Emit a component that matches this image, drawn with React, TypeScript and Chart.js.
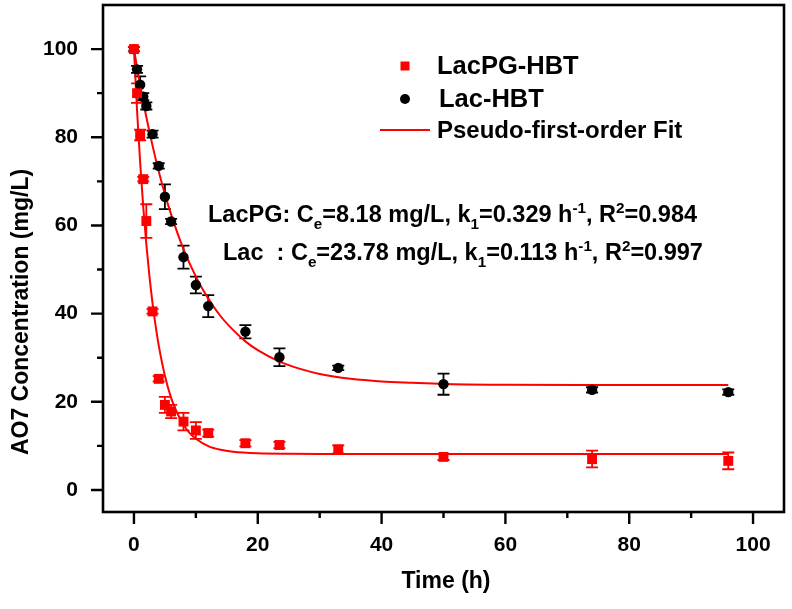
import React, { useEffect, useRef } from 'react';
import { Chart, registerables } from 'chart.js';

Chart.register(...registerables);

// ---- data ----
const TIMES = [0, 0.5, 1, 1.5, 2, 3, 4, 5, 6, 8, 10, 12, 18, 23.5, 33, 50, 74, 96];
const LACPG_VALUES = [100, 90, 80.5, 70.5, 61, 40.5, 25.2, 19.3, 17.8, 15.5, 13.5, 12.9, 10.6, 10.2, 9.2, 7.5, 7.0, 6.6];
const LACPG_ERRORS = [0.5, 2.2, 1.2, 0.5, 3.8, 0.5, 0.6, 1.8, 1.5, 2.0, 1.9, 0.8, 0.7, 0.7, 0.9, 0.7, 1.9, 1.9];
const LAC_VALUES = [100, 95.4, 91.9, 89.2, 87.1, 80.7, 73.5, 66.5, 60.9, 52.8, 46.5, 41.7, 35.9, 30.1, 27.7, 24.0, 22.7, 22.2];
const LAC_ERRORS = [0.5, 0.8, 1.9, 0.8, 0.8, 0.8, 0.6, 2.8, 0.6, 2.6, 1.9, 2.5, 1.5, 2.0, 0.5, 2.4, 0.6, 0.6];

const FIT_PG_TIMES = [0, 0.5, 1, 1.5, 2, 2.5, 3, 3.5, 4, 5, 6, 7, 8, 9, 10, 12, 14, 16, 20, 25, 30, 40, 60, 80, 96];
const FIT_PG_VALUES = [100, 86.1, 74.3, 64.2, 55.7, 48.5, 42.4, 37.2, 32.8, 25.9, 20.9, 17.4, 14.8, 12.9, 11.6, 9.95, 9.1, 8.66, 8.31, 8.2, 8.18, 8.18, 8.18, 8.18, 8.18];
const FIT_LAC_TIMES = [0, 1, 2, 3, 4, 5, 6, 8, 10, 12, 14, 16, 18, 20, 23.5, 27, 30, 35, 40, 45, 50, 60, 74, 96];
const FIT_LAC_VALUES = [100, 91.8, 84.6, 78.1, 72.3, 67.1, 62.5, 54.6, 48.4, 43.4, 39.4, 36.3, 33.7, 31.7, 29.1, 27.4, 26.3, 25.2, 24.6, 24.3, 24.05, 23.87, 23.8, 23.78];

const X_MAJOR_TICKS = [0, 20, 40, 60, 80, 100];
const X_MINOR_TICKS = [10, 30, 50, 70, 90];
const Y_MAJOR_TICKS = [0, 20, 40, 60, 80, 100];
const Y_MINOR_TICKS = [10, 30, 50, 70, 90];

const SERIES_PG = 'LacPG-HBT';
const SERIES_LAC = 'Lac-HBT';
const SERIES_FIT = 'Pseudo-first-order Fit';
const X_TITLE = 'Time (h)';
const Y_TITLE = 'AO7 Concentration (mg/L)';

type Seg = { t: string; k: 'n' | 'sub' | 'sup' };
const ANNOT_PG: Seg[] = [
  { t: 'LacPG: C', k: 'n' }, { t: 'e', k: 'sub' }, { t: '=8.18 mg/L, k', k: 'n' }, { t: '1', k: 'sub' },
  { t: '=0.329 h', k: 'n' }, { t: '-1', k: 'sup' }, { t: ', R', k: 'n' }, { t: '2', k: 'sup' }, { t: '=0.984', k: 'n' },
];
const ANNOT_LAC: Seg[] = [
  { t: 'Lac  : C', k: 'n' }, { t: 'e', k: 'sub' }, { t: '=23.78 mg/L, k', k: 'n' }, { t: '1', k: 'sub' },
  { t: '=0.113 h', k: 'n' }, { t: '-1', k: 'sup' }, { t: ', R', k: 'n' }, { t: '2', k: 'sup' }, { t: '=0.997', k: 'n' },
];

const RED = '#ff0000';
const FAM = '"Liberation Sans", Arial, sans-serif';

const toPts = (xs: number[], ys: number[]) => xs.map((x, i) => ({ x, y: ys[i] }));

function drawSegs(ctx: CanvasRenderingContext2D, segs: Seg[], x: number, y: number, size: number) {
  let cx = x;
  ctx.textAlign = 'left';
  ctx.textBaseline = 'alphabetic';
  for (const s of segs) {
    if (s.k === 'n') {
      ctx.font = `bold ${size}px ${FAM}`;
      ctx.fillText(s.t, cx, y);
    } else if (s.k === 'sub') {
      ctx.font = `bold ${size * 0.65}px ${FAM}`;
      ctx.fillText(s.t, cx, y + size * 0.28);
    } else {
      ctx.font = `bold ${size * 0.65}px ${FAM}`;
      ctx.fillText(s.t, cx, y - size * 0.38);
    }
    cx += ctx.measureText(s.t).width;
  }
}

const customPlugin = {
  id: 'customDraw',
  beforeDatasetsDraw(chart: any) {
    const { ctx, scales } = chart;
    const xs = scales.x, ys = scales.y;
    const groups = [
      { vals: LAC_VALUES, errs: LAC_ERRORS, color: '#000' },
      { vals: LACPG_VALUES, errs: LACPG_ERRORS, color: RED },
    ];
    ctx.save();
    ctx.lineWidth = 1.8;
    for (const g of groups) {
      ctx.strokeStyle = g.color;
      TIMES.forEach((t, i) => {
        const px = xs.getPixelForValue(t);
        const y1 = ys.getPixelForValue(g.vals[i] + g.errs[i]);
        const y2 = ys.getPixelForValue(g.vals[i] - g.errs[i]);
        ctx.beginPath();
        ctx.moveTo(px, y1); ctx.lineTo(px, y2);
        ctx.moveTo(px - 6, y1); ctx.lineTo(px + 6, y1);
        ctx.moveTo(px - 6, y2); ctx.lineTo(px + 6, y2);
        ctx.stroke();
      });
    }
    ctx.restore();
  },
  afterDraw(chart: any) {
    const { ctx, chartArea: a, scales } = chart;
    const xs = scales.x, ys = scales.y;
    ctx.save();
    // frame
    ctx.strokeStyle = '#000';
    ctx.lineWidth = 2.6;
    ctx.strokeRect(a.left, a.top, a.right - a.left, a.bottom - a.top);
    // ticks
    ctx.lineWidth = 2.4;
    ctx.beginPath();
    for (const v of X_MAJOR_TICKS) { const p = xs.getPixelForValue(v); ctx.moveTo(p, a.bottom); ctx.lineTo(p, a.bottom + 12); }
    for (const v of X_MINOR_TICKS) { const p = xs.getPixelForValue(v); ctx.moveTo(p, a.bottom); ctx.lineTo(p, a.bottom + 6); }
    for (const v of Y_MAJOR_TICKS) { const p = ys.getPixelForValue(v); ctx.moveTo(a.left, p); ctx.lineTo(a.left - 12, p); }
    for (const v of Y_MINOR_TICKS) { const p = ys.getPixelForValue(v); ctx.moveTo(a.left, p); ctx.lineTo(a.left - 6, p); }
    ctx.stroke();
    // axis titles
    ctx.fillStyle = '#000';
    ctx.font = `bold 23px ${FAM}`;
    ctx.textAlign = 'center';
    ctx.textBaseline = 'middle';
    ctx.fillText(X_TITLE, 446, 582);
    ctx.save();
    ctx.translate(22, 312);
    ctx.rotate(-Math.PI / 2);
    ctx.fillText(Y_TITLE, 0, 0);
    ctx.restore();
    // legend
    ctx.fillStyle = RED;
    ctx.fillRect(400.5, 61.5, 9, 9);
    ctx.fillStyle = '#000';
    ctx.beginPath(); ctx.arc(405, 99, 5, 0, Math.PI * 2); ctx.fill();
    ctx.strokeStyle = RED; ctx.lineWidth = 2;
    ctx.beginPath(); ctx.moveTo(380, 130); ctx.lineTo(430, 130); ctx.stroke();
    ctx.fillStyle = '#000';
    ctx.textAlign = 'left';
    ctx.textBaseline = 'alphabetic';
    ctx.font = `bold 25.5px ${FAM}`;
    ctx.fillText(SERIES_PG, 437, 74);
    ctx.fillText(SERIES_LAC, 439, 107);
    ctx.font = `bold 24px ${FAM}`;
    ctx.fillText(SERIES_FIT, 437, 138);
    // annotation
    drawSegs(ctx, ANNOT_PG, 208, 222, 23.5);
    drawSegs(ctx, ANNOT_LAC, 223, 260, 23.5);
    ctx.restore();
  },
};

export default function App() {
  const ref = useRef<HTMLCanvasElement | null>(null);
  useEffect(() => {
    if (!ref.current) return;
    const tickFont = { family: FAM, size: 21, weight: 'bold' as const };
    const chart = new Chart(ref.current, {
      type: 'scatter',
      data: {
        datasets: [
          {
            label: SERIES_LAC,
            data: toPts(TIMES, LAC_VALUES),
            pointStyle: 'circle',
            pointRadius: 5.2,
            backgroundColor: '#000',
            borderColor: '#000',
            borderWidth: 0,
            order: 1,
          },
          {
            label: SERIES_PG,
            data: toPts(TIMES, LACPG_VALUES),
            pointStyle: 'rect',
            pointRadius: 7,
            backgroundColor: RED,
            borderColor: RED,
            borderWidth: 0,
            order: 0,
          },
          {
            type: 'line',
            label: SERIES_FIT,
            data: toPts(FIT_LAC_TIMES, FIT_LAC_VALUES),
            borderColor: RED,
            borderWidth: 2,
            pointRadius: 0,
            showLine: true,
            fill: false,
            cubicInterpolationMode: 'monotone',
            order: 2,
          } as any,
          {
            type: 'line',
            label: SERIES_FIT + ' (LacPG)',
            data: toPts(FIT_PG_TIMES, FIT_PG_VALUES),
            borderColor: RED,
            borderWidth: 2,
            pointRadius: 0,
            showLine: true,
            fill: false,
            cubicInterpolationMode: 'monotone',
            order: 3,
          } as any,
        ],
      },
      options: {
        animation: false,
        responsive: false,
        layout: { autoPadding: false, padding: { top: 5, right: 8, left: 0, bottom: 0 } },
        plugins: { legend: { display: false }, tooltip: { enabled: false } },
        scales: {
          x: {
            type: 'linear',
            min: -5,
            max: 105,
            grid: { display: false, drawTicks: false },
            border: { display: false },
            afterBuildTicks: (s: any) => { s.ticks = X_MAJOR_TICKS.map((v) => ({ value: v })); },
            afterFit: (s: any) => { s.height = 97; s.paddingLeft = 0; s.paddingRight = 0; s.paddingTop = 0; s.paddingBottom = 0; },
            ticks: { font: tickFont, color: '#000', padding: 21, maxRotation: 0, autoSkip: false },
          },
          y: {
            type: 'linear',
            min: -5,
            max: 110,
            grid: { display: false, drawTicks: false },
            border: { display: false },
            afterBuildTicks: (s: any) => { s.ticks = Y_MAJOR_TICKS.map((v) => ({ value: v })); },
            afterFit: (s: any) => { s.width = 103; s.paddingLeft = 0; s.paddingRight = 0; s.paddingTop = 0; s.paddingBottom = 0; },
            ticks: { font: tickFont, color: '#000', padding: 25, autoSkip: false },
          },
        },
      },
      plugins: [customPlugin],
    });
    return () => chart.destroy();
  }, []);
  return (
    <div style={{ position: 'absolute', left: 0, top: 0, width: 792, height: 609, background: '#fff' }}>
      <canvas ref={ref} width={792} height={609} style={{ display: 'block' }} />
    </div>
  );
}
